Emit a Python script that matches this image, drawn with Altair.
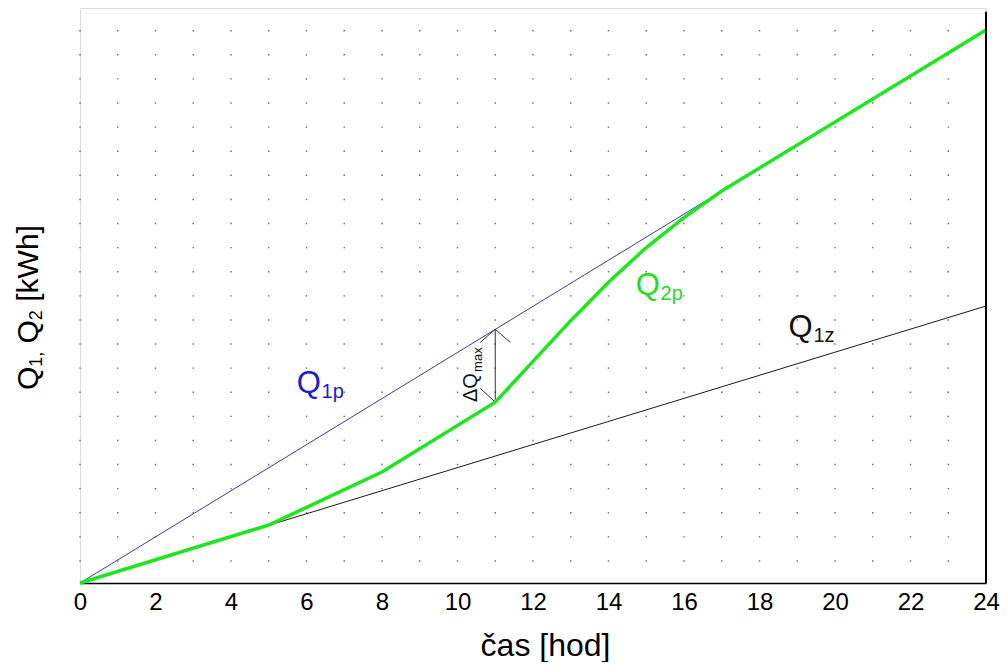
import altair as alt
import pandas as pd

# ---- data ----
hours_q1p = [0, 17]
q1p = [0, 16.36]
hours_q1z = [0, 24]
q1z = [0, 11.56]
hours_q2p = [0, 5, 8, 11, 12, 13, 14, 15, 16, 17, 24]
q2p = [0, 2.42, 4.63, 7.55, 9.25, 10.95, 12.55, 14.0, 15.25, 16.36, 23.08]
x_tick_values = [0, 2, 4, 6, 8, 10, 12, 14, 16, 18, 20, 22, 24]

# Delta Q max annotation (hour, low, high)
dq_hour = 11
dq_low = 7.55
dq_high = 10.59

# label texts (main part + subscript) and their anchor positions (hour, value)
lab_main = ["Q", "Q", "Q"]
lab_sub = ["1p", "2p", "1z"]
lab_color = ["#1c1cd2", "#22dd22", "#111111"]
lab_main_x = [5.74, 14.72, 18.77]
lab_main_y = [7.93, 12.02, 10.27]
lab_sub_x = [6.40, 15.38, 19.43]
lab_sub_y = [7.72, 11.81, 10.06]

# y-axis title pieces
yt_big = ["Q", "Q", "[kWh]"]
yt_big_y = [8.06, 10.0, 11.74]
yt_small = ["1,", "2"]
yt_small_y = [9.03, 10.97]

REG = "Liberation Sans, Arial, sans-serif"

xs = alt.Scale(domain=[0, 24], nice=False, zero=False)
ys = alt.Scale(domain=[0, 24], nice=False, zero=False)

xaxis = alt.Axis(
    values=x_tick_values, title="čas [hod]", grid=False, ticks=False,
    domainColor="black", domainWidth=1.5,
    labelFont=REG, labelFontSize=24, labelColor="black", labelPadding=7,
    labelFlush=False, labelOverlap=False,
    titleFont=REG, titleFontSize=32, titleFontWeight="normal", titleColor="black",
    titleX=465, titleY=72, titleBaseline="alphabetic", titleAlign="center",
)


def X(field):
    return alt.X(field, type="quantitative", scale=xs, axis=xaxis)


def Y(field):
    return alt.Y(field, type="quantitative", scale=ys, axis=None)


# dotted background grid
grid_rows = [0.92 + k * 1.006 for k in range(23)]
grid_cols = list(range(24))
dots = pd.DataFrame([(c, r) for c in grid_cols for r in grid_rows], columns=["h", "v"])
dot_layer = alt.Chart(dots).mark_square(size=2, color="#444444", opacity=0.8).encode(
    x=X("h"), y=Y("v"))


def line(h, v, color, width):
    df = pd.DataFrame({"h": h, "v": v, "o": list(range(len(h)))})
    return alt.Chart(df).mark_line(color=color, strokeWidth=width).encode(
        x=X("h"), y=Y("v"), order="o:Q")


l_q1z = line(hours_q1z, q1z, "#1a1a1a", 1)
l_q1p = line(hours_q1p, q1p, "#3a3aa8", 1)
l_q2p = line(hours_q2p, q2p, "#1ee61e", 3.5)

# right frame line
right_df = pd.DataFrame({"h": [24], "v": [0], "v2": [23.84]})
right_line = alt.Chart(right_df).mark_rule(color="black", strokeWidth=2).encode(
    x=X("h"), y=Y("v"), y2="v2")

# delta Q arrow
arrow_df = pd.DataFrame({
    "h": [dq_hour, dq_hour, dq_hour, dq_hour, dq_hour],
    "v": [dq_low, dq_high, dq_high, dq_low, dq_low],
    "h2": [dq_hour, dq_hour - 0.4, dq_hour + 0.4, dq_hour - 0.4, dq_hour + 0.4],
    "v2": [dq_high, dq_high - 0.55, dq_high - 0.55, dq_low + 0.58, dq_low + 0.58],
})
arrow = alt.Chart(arrow_df).mark_rule(color="#333333", strokeWidth=1).encode(
    x=X("h"), y=Y("v"), x2="h2", y2="v2")

dq_df = pd.DataFrame({"h": [10.52], "v": [7.55], "t": ["ΔQ"]})
dq_text = alt.Chart(dq_df).mark_text(
    angle=270, align="left", baseline="alphabetic", font=REG, fontSize=20, color="#111111"
).encode(x=X("h"), y=Y("v"), text="t:N")
dqs_df = pd.DataFrame({"h": [10.65], "v": [8.81], "t": ["max"]})
dqs_text = alt.Chart(dqs_df).mark_text(
    angle=270, align="left", baseline="alphabetic", font=REG, fontSize=13, color="#111111"
).encode(x=X("h"), y=Y("v"), text="t:N")

# series labels
main_df = pd.DataFrame({"h": lab_main_x, "v": lab_main_y, "t": lab_main, "c": lab_color})
sub_df = pd.DataFrame({"h": lab_sub_x, "v": lab_sub_y, "t": lab_sub, "c": lab_color})
main_text = alt.Chart(main_df).mark_text(
    align="left", baseline="alphabetic", font=REG, fontSize=31
).encode(x=X("h"), y=Y("v"), text="t:N", color=alt.Color("c:N", scale=None))
sub_text = alt.Chart(sub_df).mark_text(
    align="left", baseline="alphabetic", font=REG, fontSize=20
).encode(x=X("h"), y=Y("v"), text="t:N", color=alt.Color("c:N", scale=None))

# y-axis title built from pieces (for subscripts)
ytb_df = pd.DataFrame({"h": [-1.11] * len(yt_big), "v": yt_big_y, "t": yt_big})
yts_df = pd.DataFrame({"h": [-1.00] * len(yt_small), "v": yt_small_y, "t": yt_small})
ytb = alt.Chart(ytb_df).mark_text(
    angle=270, align="left", baseline="alphabetic", font=REG, fontSize=30, color="black"
).encode(x=X("h"), y=Y("v"), text="t:N")
yts = alt.Chart(yts_df).mark_text(
    angle=270, align="left", baseline="alphabetic", font=REG, fontSize=18, color="black"
).encode(x=X("h"), y=Y("v"), text="t:N")

chart = alt.layer(
    dot_layer, l_q1z, l_q1p, arrow, l_q2p, right_line,
    dq_text, dqs_text, main_text, sub_text, ytb, yts,
).properties(
    width=906, height=575,
    autosize=alt.AutoSizeParams(type="none"),
    padding={"left": 72, "top": 0, "right": 14, "bottom": 79},
).configure_view(stroke=None).configure(background="white")

chart.save("out.html", embed_options={"renderer": "svg", "actions": False})
